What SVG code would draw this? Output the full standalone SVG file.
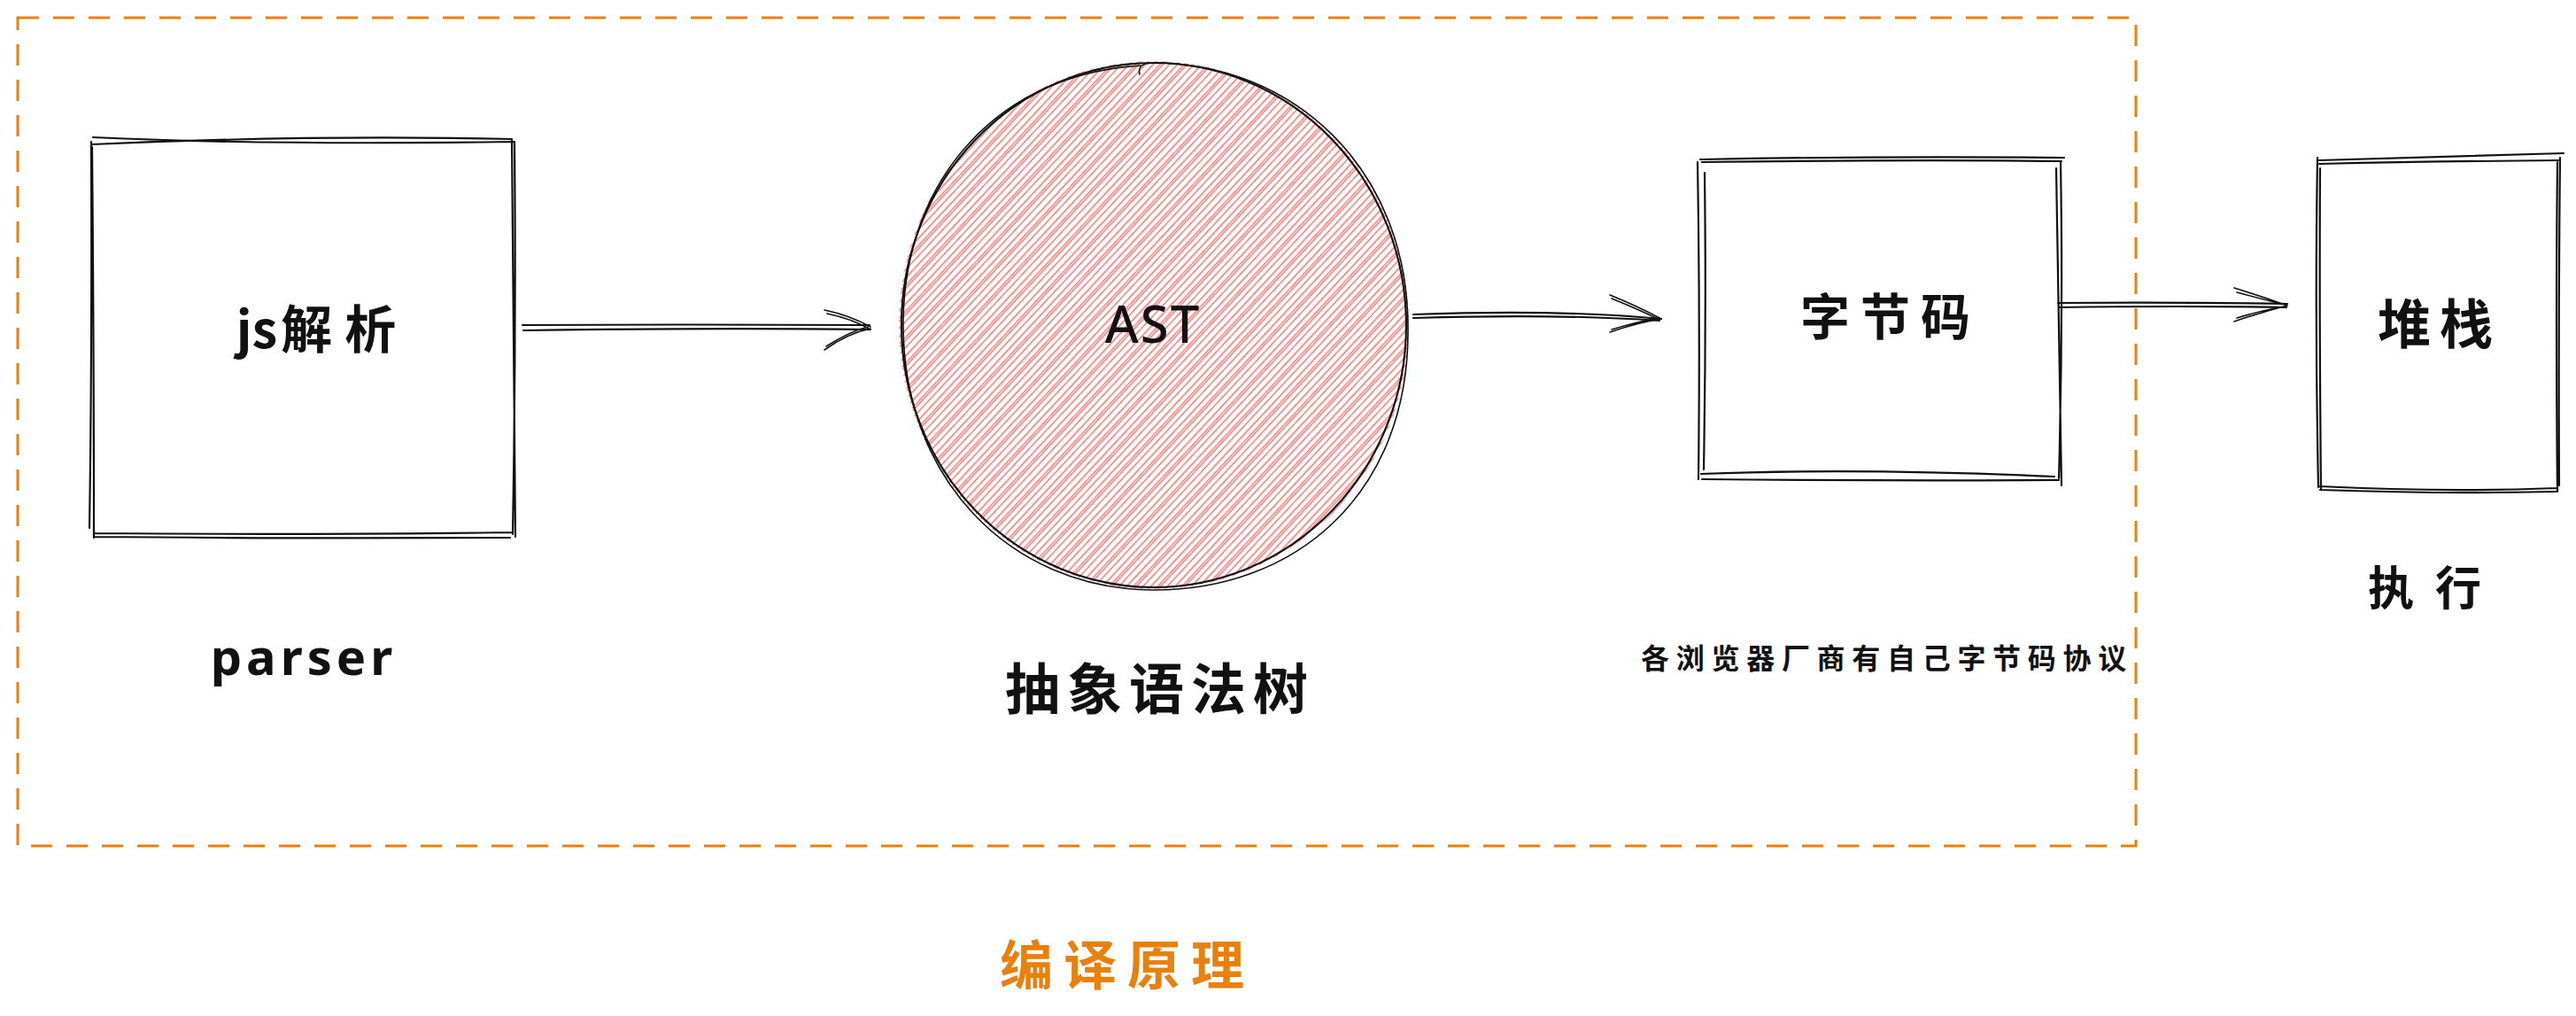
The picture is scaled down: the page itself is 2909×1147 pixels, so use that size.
<svg xmlns="http://www.w3.org/2000/svg" width="2909" height="1147" viewBox="0 0 2909 1147">
  <defs>
    <style>
      .sk { fill: none; stroke: #111; stroke-width: 2.2; stroke-linecap: round; stroke-linejoin: round; }
      .sk2 { fill: none; stroke: #111; stroke-width: 1.6; stroke-linecap: round; }
      .cjk { font-family: "Noto Sans CJK SC", "Noto Sans", sans-serif; font-weight: 700; fill: #111; }
      .lat { font-family: "Noto Sans", "Noto Sans CJK SC", sans-serif; fill: #111; }
      .frame { fill: none; stroke: #e8800c; stroke-width: 3; stroke-dasharray: 24 16; }
      .title { font-family: "Noto Sans CJK SC", sans-serif; font-weight: 700; fill: #e8800c; }
      .h { stroke: #f54b4b; stroke-width: 1.3; }
    </style>
    <pattern id="hach" patternUnits="userSpaceOnUse" width="20" height="20" patternTransform="rotate(-47)">
      <line class="h" x1="0" y1="2" x2="20" y2="2" stroke-opacity="0.95"/>
      <line class="h" x1="0" y1="7.5" x2="20" y2="7.5" stroke-opacity="0.8"/>
      <line class="h" x1="0" y1="10" x2="20" y2="10" stroke-opacity="0.9"/>
      <line class="h" x1="0" y1="15.5" x2="20" y2="15.5" stroke-opacity="0.85"/>
    </pattern>
    <clipPath id="ellclip">
      <ellipse cx="1303" cy="367" rx="288" ry="298"/>
    </clipPath>
  </defs>

  <rect width="2909" height="1147" fill="#ffffff"/>

  <g id="frame">
    <rect class="frame" x="20" y="20" width="2392" height="935"/>
  </g>

  <g id="node-js">
    <path class="sk" d="M105 155 Q 300 164 580 160 M103 163 Q 350 152 578 157 M578 157 Q 581 400 582 606 M581 160 Q 583 380 579 603 M106 602 Q 350 604 578 601 M106 606 Q 300 608 576 607 M103 160 Q 104 400 101 596 M104 166 Q 106 380 106 607"/>
    <text class="cjk" x="357" y="368" font-size="58" text-anchor="middle" dominant-baseline="central"><tspan>js</tspan><tspan dx="4">解</tspan><tspan dx="14">析</tspan></text>
  </g>

  <g id="node-ast">
    <rect x="1000" y="60" width="610" height="620" fill="url(#hach)" clip-path="url(#ellclip)"/>
    <ellipse class="sk" cx="1303" cy="367" rx="285" ry="296"/>
    <path class="sk2" d="M1287 84 Q 1284 72 1300 71 C 1460 70 1590 190 1590 370 C 1592 560 1460 668 1300 666 C 1140 664 1018 540 1020 362 C 1022 200 1130 82 1290 74"/>
    <text class="lat" x="1302" y="364" font-size="58" font-weight="500" letter-spacing="2" text-anchor="middle" dominant-baseline="central">AST</text>
  </g>

  <g id="node-bytecode">
    <path class="sk" d="M1920 180 Q 2120 176 2331 178 M1922 183 Q 2150 180 2328 182 M1917 183 Q 1920 360 1918 541 M1925 195 Q 1927 360 1924 530 M2322 190 Q 2325 360 2328 548 M2327 182 Q 2330 360 2325 540 M1921 535 Q 2100 528 2320 538 M1922 541 Q 2120 543 2325 542"/>
    <text class="cjk" x="2135" y="353" font-size="56" letter-spacing="12" text-anchor="middle" dominant-baseline="central">字节码</text>
  </g>

  <g id="node-stack">
    <path class="sk" d="M2618 181 Q 2760 177 2895 173 M2619 185 Q 2760 182 2889 181 M2617 178 Q 2614 360 2618 550 M2620 190 Q 2619 360 2621 552 M2888 183 Q 2886 360 2888 555 M2891 178 Q 2889 360 2890 548 M2619 549 Q 2760 556 2888 551 M2620 553 Q 2760 558 2886 555"/>
    <text class="cjk" x="2755" y="361" font-size="60" letter-spacing="10" text-anchor="middle" dominant-baseline="central">堆栈</text>
  </g>

  <g id="label-parser">
    <text class="lat" x="343" y="762" font-size="56" font-weight="700" letter-spacing="5" text-anchor="middle">parser</text>
  </g>

  <g id="label-ast-cn">
    <text class="cjk" x="1310" y="774" font-size="62" letter-spacing="8" text-anchor="middle" dominant-baseline="central">抽象语法树</text>
  </g>

  <g id="label-vendors">
    <text class="cjk" x="2131" y="741" font-size="32" letter-spacing="7.7" text-anchor="middle" dominant-baseline="central">各浏览器厂商有自己字节码协议</text>
  </g>

  <g id="label-exec">
    <text class="cjk" x="2750" y="660" font-size="52" letter-spacing="24" text-anchor="middle" dominant-baseline="central">执行</text>
  </g>

  <g id="label-title">
    <text class="title" x="1273" y="1085" font-size="60" letter-spacing="12" text-anchor="middle" dominant-baseline="central">编译原理</text>
  </g>

  <g id="connectors">
    <path class="sk" d="M590 367 Q 780 366 982 367 M591 373 Q 800 370 983 372"/>
    <path class="sk2" d="M931 350 Q 960 356 983 369 M934 354 Q 962 360 981 371 M931 395 Q 958 376 983 371 M933 391 Q 960 374 980 369"/>
    <path class="sk" d="M1596 355 Q 1760 349 1876 360 M1596 359 Q 1760 354 1874 362"/>
    <path class="sk2" d="M1818 333 Q 1850 346 1876 360 M1820 337 Q 1852 350 1874 361 M1818 375 Q 1850 364 1876 360 M1820 372 Q 1850 363 1873 359"/>
    <path class="sk" d="M2324 342 Q 2460 341 2583 343 M2325 347 Q 2460 345 2582 347"/>
    <path class="sk2" d="M2523 325 Q 2555 335 2583 345 M2526 330 Q 2556 338 2580 344 M2523 363 Q 2555 352 2583 345 M2526 359 Q 2556 350 2580 346"/>
  </g>
</svg>
